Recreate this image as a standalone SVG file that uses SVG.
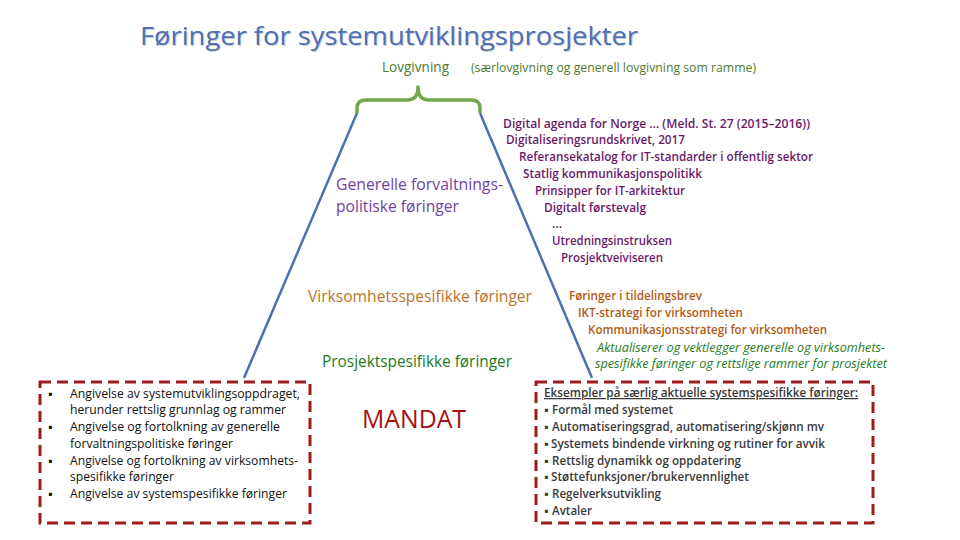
<svg xmlns="http://www.w3.org/2000/svg" width="960" height="540" viewBox="0 0 960 540">
<style>
text{font-family:"Open Sans","Noto Sans","Liberation Sans",sans-serif}
.title{font-size:26px;fill:#4f6fb0}
.titlesh{font-size:26px;fill:#c9cfdc}
.lov{font-size:15px;fill:#4e7a2e}
.lovs{font-size:12px;fill:#4e7a2e}
.gen{font-size:16px;fill:#6f3fa3}
.pl{font-size:12.5px;fill:#6a1a6a;font-weight:600}
.vir{font-size:16px;fill:#b8742c}
.ol{font-size:12.5px;fill:#b35a12;font-weight:600}
.gi{font-size:12.5px;fill:#1e7b1e;font-style:italic}
.pro{font-size:16px;fill:#237a1e}
.man{font-size:25px;fill:#a50f15}
.lb{font-size:12.5px;fill:#111}
.rb{font-size:12.5px;fill:#3a3a3a;font-weight:600}
.box{fill:none;stroke:#a01c1c;stroke-width:3;stroke-dasharray:11,6}
.line{stroke:#4a72b0;stroke-width:2.5;fill:none}
.brace{stroke:#70a84a;stroke-width:3.5;fill:none;stroke-linejoin:round}
</style>
<rect width="960" height="540" fill="#ffffff"/>

<g id="title">
<text class="titlesh" x="141" y="46" textLength="498" lengthAdjust="spacingAndGlyphs">Føringer for systemutviklingsprosjekter</text>
<text class="title" x="140" y="45" textLength="498" lengthAdjust="spacingAndGlyphs">Føringer for systemutviklingsprosjekter</text>
</g>

<g id="lovgivning">
<text class="lov" x="382" y="72" textLength="67" lengthAdjust="spacingAndGlyphs">Lovgivning</text>
<text class="lovs" x="471" y="72" textLength="285" lengthAdjust="spacingAndGlyphs">(særlovgivning og generell lovgivning som ramme)</text>
</g>

<g id="connectors">
<path class="brace" d="M357,113 L357,108 Q357,100 366,100 L407,100 Q418,100 418,87 Q418,100 429,100 L471,100 Q480,100 480,108 L480,113"/>
<line class="line" x1="357" y1="113" x2="244" y2="378"/>
<line class="line" x1="480" y1="113" x2="592" y2="378"/>
</g>

<g id="generelle">
<text class="gen" x="336" y="190" textLength="167" lengthAdjust="spacingAndGlyphs">Generelle forvaltnings-</text>
<text class="gen" x="336" y="212" textLength="123" lengthAdjust="spacingAndGlyphs">politiske føringer</text>
</g>

<g id="generelle-liste">
<text class="pl" x="503" y="128" textLength="307" lengthAdjust="spacingAndGlyphs">Digital agenda for Norge … (Meld. St. 27 (2015–2016))</text>
<text class="pl" x="506" y="144" textLength="179" lengthAdjust="spacingAndGlyphs">Digitaliseringsrundskrivet, 2017</text>
<text class="pl" x="519" y="161" textLength="294" lengthAdjust="spacingAndGlyphs">Referansekatalog for IT-standarder i offentlig sektor</text>
<text class="pl" x="523" y="178" textLength="179" lengthAdjust="spacingAndGlyphs">Statlig kommunikasjonspolitikk</text>
<text class="pl" x="535" y="195" textLength="150" lengthAdjust="spacingAndGlyphs">Prinsipper for IT-arkitektur</text>
<text class="pl" x="544" y="212" textLength="102" lengthAdjust="spacingAndGlyphs">Digitalt førstevalg</text>
<text class="pl" x="552" y="228">…</text>
<text class="pl" x="552" y="245" textLength="120" lengthAdjust="spacingAndGlyphs">Utredningsinstruksen</text>
<text class="pl" x="561" y="262" textLength="102" lengthAdjust="spacingAndGlyphs">Prosjektveiviseren</text>
</g>

<g id="virksomhet">
<text class="vir" x="308" y="302" textLength="224" lengthAdjust="spacingAndGlyphs">Virksomhetsspesifikke føringer</text>
</g>

<g id="virksomhet-liste">
<text class="ol" x="569" y="300" textLength="133" lengthAdjust="spacingAndGlyphs">Føringer i tildelingsbrev</text>
<text class="ol" x="578" y="317" textLength="165" lengthAdjust="spacingAndGlyphs">IKT-strategi for virksomheten</text>
<text class="ol" x="588" y="334" textLength="239" lengthAdjust="spacingAndGlyphs">Kommunikasjonsstrategi for virksomheten</text>
</g>

<g id="aktualiserer">
<text class="gi" x="597" y="352" textLength="288" lengthAdjust="spacingAndGlyphs">Aktualiserer og vektlegger generelle og virksomhets-</text>
<text class="gi" x="595" y="368" textLength="292" lengthAdjust="spacingAndGlyphs">spesifikke føringer og rettslige rammer for prosjektet</text>
</g>

<g id="prosjekt">
<text class="pro" x="322" y="367" textLength="190" lengthAdjust="spacingAndGlyphs">Prosjektspesifikke føringer</text>
</g>

<g id="mandat">
<text class="man" x="362" y="428" textLength="104" lengthAdjust="spacingAndGlyphs">MANDAT</text>
</g>

<g id="mandat-boks">
<rect class="box" x="40" y="382" width="270" height="141"/>
<text class="lb" x="48" y="398">▪</text>
<text class="lb" x="70" y="398" textLength="230" lengthAdjust="spacingAndGlyphs">Angivelse av systemutviklingsoppdraget,</text>
<text class="lb" x="70" y="414" textLength="216" lengthAdjust="spacingAndGlyphs">herunder rettslig grunnlag og rammer</text>
<text class="lb" x="48" y="431">▪</text>
<text class="lb" x="70" y="431" textLength="210" lengthAdjust="spacingAndGlyphs">Angivelse og fortolkning av generelle</text>
<text class="lb" x="70" y="448" textLength="163" lengthAdjust="spacingAndGlyphs">forvaltningspolitiske føringer</text>
<text class="lb" x="48" y="465">▪</text>
<text class="lb" x="70" y="465" textLength="228" lengthAdjust="spacingAndGlyphs">Angivelse og fortolkning av virksomhets-</text>
<text class="lb" x="70" y="481" textLength="104" lengthAdjust="spacingAndGlyphs">spesifikke føringer</text>
<text class="lb" x="48" y="498">▪</text>
<text class="lb" x="70" y="498" textLength="217" lengthAdjust="spacingAndGlyphs">Angivelse av systemspesifikke føringer</text>
</g>

<g id="eksempler-boks">
<rect class="box" x="536" y="382" width="337" height="141"/>
<text class="rb" x="544" y="397" text-decoration="underline" textLength="314" lengthAdjust="spacingAndGlyphs">Eksempler på særlig aktuelle systemspesifikke føringer:</text>
<text class="rb" x="544" y="414">▪</text><text class="rb" x="552" y="414" textLength="121" lengthAdjust="spacingAndGlyphs">Formål med systemet</text>
<text class="rb" x="544" y="431">▪</text><text class="rb" x="552" y="431" textLength="272" lengthAdjust="spacingAndGlyphs">Automatiseringsgrad, automatisering/skjønn mv</text>
<text class="rb" x="544" y="448">▪</text><text class="rb" x="551" y="448" textLength="274" lengthAdjust="spacingAndGlyphs">Systemets bindende virkning og rutiner for avvik</text>
<text class="rb" x="544" y="465">▪</text><text class="rb" x="552" y="465" textLength="189" lengthAdjust="spacingAndGlyphs">Rettslig dynamikk og oppdatering</text>
<text class="rb" x="544" y="481">▪</text><text class="rb" x="551" y="481" textLength="198" lengthAdjust="spacingAndGlyphs">Støttefunksjoner/brukervennlighet</text>
<text class="rb" x="544" y="498">▪</text><text class="rb" x="552" y="498" textLength="109" lengthAdjust="spacingAndGlyphs">Regelverksutvikling</text>
<text class="rb" x="544" y="515">▪</text><text class="rb" x="552" y="515" textLength="40" lengthAdjust="spacingAndGlyphs">Avtaler</text>
</g>
</svg>
